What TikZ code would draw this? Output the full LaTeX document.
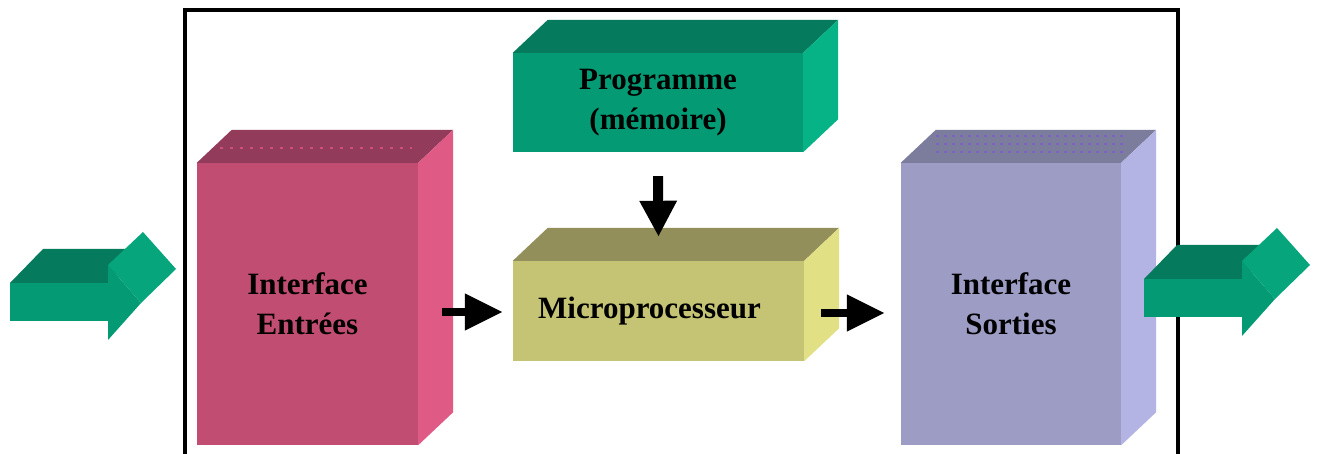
\documentclass[tikz,border=0pt]{standalone}
\usepackage{fontspec}
\setmainfont{Liberation Serif}
\usetikzlibrary{arrows.meta,calc}
\definecolor{pinkF}{HTML}{C24D72}
\definecolor{pinkT}{HTML}{933B5A}
\definecolor{pinkS}{HTML}{E05A86}
\definecolor{pinkD}{HTML}{D04E7C}
\definecolor{grnF}{HTML}{049B74}
\definecolor{grnT}{HTML}{067A5C}
\definecolor{grnS}{HTML}{06B386}
\definecolor{grnH}{HTML}{06A57B}
\definecolor{oliF}{HTML}{C4C474}
\definecolor{oliT}{HTML}{928F5A}
\definecolor{oliS}{HTML}{E2E084}
\definecolor{lavF}{HTML}{9C9CC4}
\definecolor{lavT}{HTML}{7C7C9C}
\definecolor{lavS}{HTML}{B4B4E4}
\definecolor{lavD}{HTML}{7B62C4}
\begin{document}
\begin{tikzpicture}[x=1pt,y=-1pt,
  front/.style={rectangle, inner sep=0pt, align=center, text=black,
    font=\fontsize{31}{40}\selectfont\bfseries},
  conn/.style={line width=8pt, -{Triangle[length=38pt,width=35pt]}},
  connv/.style={line width=10pt, -{Triangle[length=36pt,width=35pt]}},
  frame/.style={line width=4.5pt, line join=miter}
]
\useasboundingbox (0,0) rectangle (1318,454);
\fill[white] (0,0) rectangle (1318,454);

% frame
\coordinate (fbl) at (185,454);
\coordinate (ftl) at (185,10);
\coordinate (ftr) at (1178,10);
\coordinate (fbr) at (1178,454);
\draw[frame] (fbl) -- (ftl) -- (ftr) -- (fbr);

% 3D boxes: front faces as nodes
\newcommand{\boxfaces}[4]{%
  \fill[#2] (#1.north west) -- ++(35,-33) -- ($(#1.north east)+(35,-33)$) -- (#1.north east) -- cycle;
  \fill[#3] (#1.north east) -- ++(35,-33) -- ($(#1.south east)+(35,-33)$) -- (#1.south east) -- cycle;
}

\node[front, fill=pinkF, minimum width=221pt, minimum height=282pt] (entrees) at (307.5,304) {Interface\\Entrées};
\boxfaces{entrees}{pinkT}{pinkS}{}
\draw[pinkD, line width=2.5pt, dash pattern=on 2.5pt off 7.5pt] (220,148) -- (412,148);

\node[front, fill=grnF, minimum width=290pt, minimum height=99pt] (prog) at (658,102.5) {Programme\\(mémoire)};
\boxfaces{prog}{grnT}{grnS}{}

\node[front, fill=oliF, minimum width=291pt, minimum height=100pt] (micro) at (658.5,311) {\hspace*{-18pt}Microprocesseur};
\boxfaces{micro}{oliT}{oliS}{}

\node[front, fill=lavF, minimum width=220pt, minimum height=282pt] (sorties) at (1011,304) {Interface\\Sorties};
\boxfaces{sorties}{lavT}{lavS}{}
\foreach \yy in {136,144,152}
  \draw[lavD, line width=2.5pt, dash pattern=on 2.5pt off 5.5pt] (936,\yy) -- (1126,\yy);

% connectors
\draw[conn] ($(micro.west -| entrees.east)+(24,1)$) -- ($(micro.west)+(-10,1)$);
\draw[conn] ($(micro.east)+(17,2)$) -- ($(micro.east -| sorties.west)+(-16,2)$);
\draw[connv] ($(prog.south)+(0,24)$) -- ($(micro.north)+(0,-24)$);

% big green arrows (input / output)
\newcommand{\bigarrow}{%
  \fill[grnT] (10,283) -- (43,249) -- (143,249) -- (108,283) -- cycle;
  \fill[grnF] (10,283) rectangle (108,321);
  \fill[grnF] (108,265) -- (141,303) -- (108,340) -- cycle;
  \fill[grnH] (108,265) -- (143,232) -- (176,269) -- (141,303) -- cycle;
}
\begin{scope}
  \bigarrow
\end{scope}
\begin{scope}[shift={(1134,-4)}]
  \bigarrow
\end{scope}
\end{tikzpicture}
\end{document}
